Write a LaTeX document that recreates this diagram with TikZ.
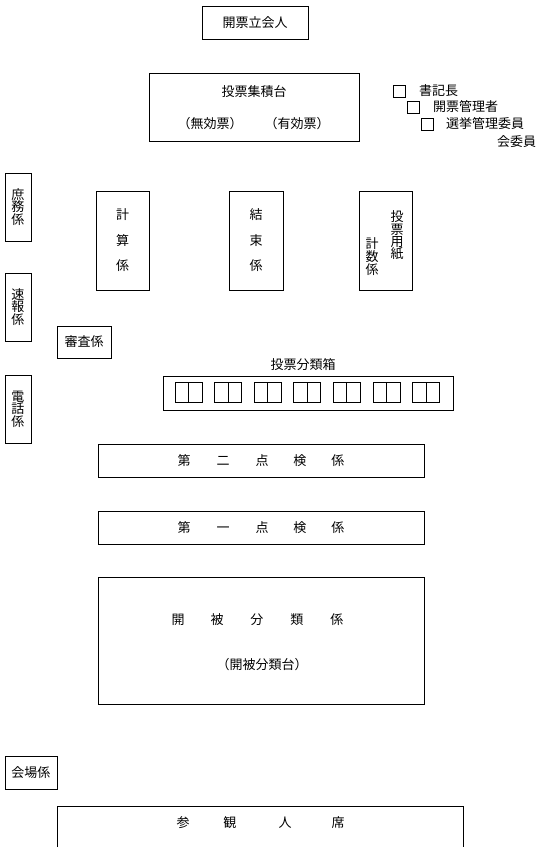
\documentclass[tikz,border=0pt]{standalone}
\usepackage{fontspec}
\setmainfont{Noto Sans CJK JP}
\begin{document}
\begin{tikzpicture}[x=1pt,y=-1pt,
  box/.style={draw,line width=0.9pt,inner sep=0pt,align=center,font=\fontsize{13}{12.5}\selectfont},
  lbl/.style={inner sep=0pt,align=center,font=\fontsize{13}{12.5}\selectfont},
  sq/.style={draw,line width=0.9pt,inner sep=0pt,minimum width=12,minimum height=12},
  cell/.style={draw,line width=0.9pt,inner sep=0pt,minimum width=13.5,minimum height=20}]
\useasboundingbox (0,0) rectangle (539,852);
% top
\node[box,minimum width=106,minimum height=33] (kaihyo) at (255,22.5) {開票立会人};
\node[box,minimum width=210,minimum height=68] (shuseki) at (254,107) {};
\node[lbl] (shusekit) at (254,92) {投票集積台};
\node[lbl] (muko) at (210,124) {（無効票）};
\node[lbl] (yuko) at (297,124) {（有効票）};
% legend
\node[sq] (sq1) at (399,91) {};
\node[sq] (sq2) at (413,107) {};
\node[sq] (sq3) at (427,124) {};
\node[lbl,anchor=west] (leg1) at (419,91) {書記長};
\node[lbl,anchor=west] (leg2) at (433,107) {開票管理者};
\node[lbl,anchor=west] (leg3) at (446,124) {選挙管理委員};
\node[lbl,anchor=west] (leg4) at (497,142) {会委員};
% left column
\node[box,minimum width=26,minimum height=68] (shomu) at (18,207) {庶\\務\\係};
\node[box,minimum width=26,minimum height=68] (sokuho) at (18,307) {速\\報\\係};
\node[box,minimum width=26,minimum height=68] (denwa) at (18,409) {電\\話\\係};
\node[box,minimum width=54,minimum height=32] (shinsa) at (84,342) {審査係};
% tall boxes
\node[box,minimum width=53,minimum height=99,font=\fontsize{13}{25.5}\selectfont] (keisan) at (122.5,240.5) {計\\算\\係};
\node[box,minimum width=54,minimum height=99,font=\fontsize{13}{25.5}\selectfont] (kessoku) at (256,240.5) {結\\束\\係};
\node[box,minimum width=53,minimum height=99] (yoshi) at (385.5,240.5) {};
\node[lbl,font=\fontsize{13}{12.4}\selectfont] (yoshit1) at (397,235.5) {投\\票\\用\\紙};
\node[lbl,font=\fontsize{13}{11.8}\selectfont] (yoshit2) at (372,256.5) {計\\数\\係};
% ballot sorting boxes
\node[lbl] (bunruit) at (303,365) {投票分類箱};
\node[box,minimum width=290,minimum height=34] (bunrui) at (308,393) {};
\foreach \i in {0,...,6}{
  \node[cell] (ca\i) at ({181.75+39.6*\i},392) {};
  \node[cell] (cb\i) at ({195.25+39.6*\i},392) {};
}
% inspection
\node[box,minimum width=326,minimum height=33] (tenken2) at (261,460.5) {第\hspace{26pt}二\hspace{26pt}点\hspace{25pt}検\hspace{25pt}係};
\node[box,minimum width=326,minimum height=33] (tenken1) at (261,527.5) {第\hspace{26pt}一\hspace{26pt}点\hspace{25pt}検\hspace{25pt}係};
\node[box,minimum width=326,minimum height=127] (kaihi) at (261,640.5) {};
\node[lbl] (kaihit) at (257.5,620) {開\hspace{26pt}被\hspace{27pt}分\hspace{27pt}類\hspace{27pt}係};
\node[lbl] (kaihidai) at (262,665) {（開被分類台）};
% bottom
\node[box,minimum width=52,minimum height=33] (kaijo) at (31,772.5) {会場係};
\coordinate (skL) at (57,847);
\coordinate (skR) at (463,847);
\draw[line width=0.9pt] (skL) -- (57,806) -- (463,806) -- (skR);
\node[lbl] (sankan) at (260.5,823) {参\hspace{34pt}観\hspace{42pt}人\hspace{40pt}席};
\end{tikzpicture}
\end{document}
